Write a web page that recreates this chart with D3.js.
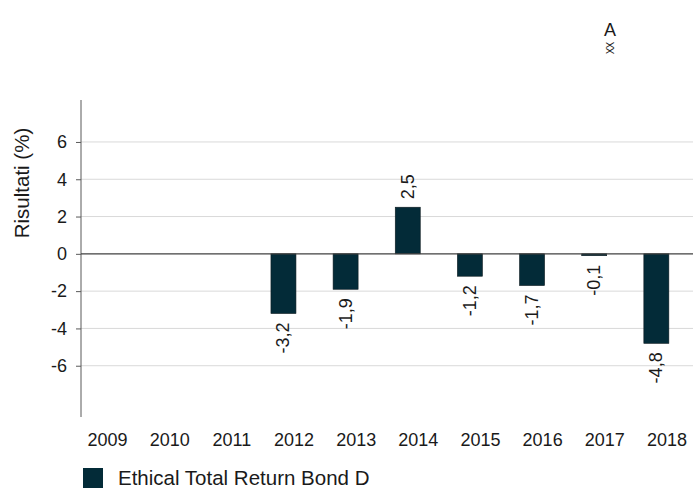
<!DOCTYPE html>
<html>
<head>
<meta charset="utf-8">
<script src="https://cdn.jsdelivr.net/npm/d3@7"></script>
<style>
  body { margin: 0; background: #fff; }
  svg { display: block; font-family: "Liberation Sans", Arial, sans-serif; }
</style>
</head>
<body>
<div id="chart"></div>
<script>
const years = ['2009', '2010', '2011', '2012', '2013', '2014', '2015', '2016', '2017', '2018'];
const values = [null, null, null, -3.2, -1.9, 2.5, -1.2, -1.7, -0.1, -4.8];
const yTicks = [-6, -4, -2, 0, 2, 4, 6];
const seriesName = 'Ethical Total Return Bond D';

const W = 693, H = 488;
const barColor = '#032b38';

const svg = d3.select('#chart').append('svg')
    .attr('width', W)
    .attr('height', H);

const x = d3.scaleBand()
    .domain(years)
    .range([76.5, 698]);

const y = d3.scaleLinear()
    .domain([-8.75, 8.25])
    .range([417, 100]);

const axisX = 81;
// formato italiano, con trattino normale
const fmt = v => v.toFixed(1).replace('.', ',');

// griglia
svg.append('g')
    .selectAll('line')
    .data(yTicks.filter(t => t !== 0))
    .enter().append('line')
    .attr('x1', axisX).attr('x2', W)
    .attr('y1', d => y(d)).attr('y2', d => y(d))
    .style('stroke', '#d9d9d9')
    .style('stroke-width', '1px');

// asse y
const yAxis = svg.append('g')
    .attr('transform', `translate(${axisX},0)`)
    .call(d3.axisLeft(y).tickValues(yTicks).tickSize(5).tickPadding(9).tickFormat(d => String(d)));
yAxis.select('.domain').remove();
yAxis.selectAll('.tick line').style('stroke', '#595959');
yAxis.selectAll('.tick text')
    .style('font-size', '18px')
    .style('fill', '#1a1a1a')
    .style('font-family', '"Liberation Sans", Arial, sans-serif');

svg.append('line')
    .attr('x1', axisX).attr('x2', axisX)
    .attr('y1', 100).attr('y2', 417)
    .style('stroke', '#595959')
    .style('stroke-width', '1px');

// barre
const data = years.map((yr, i) => ({ year: yr, value: values[i] })).filter(d => d.value !== null);

svg.append('g')
    .selectAll('rect')
    .data(data)
    .enter().append('rect')
    .attr('x', d => x(d.year) + 8)
    .attr('width', 25)
    .attr('y', d => y(Math.max(0, d.value)))
    .attr('height', d => Math.abs(y(d.value) - y(0)))
    .style('fill', barColor)
    .style('stroke', '#0d1a1f')
    .style('stroke-width', '0.6px');

// linea dello zero
svg.append('line')
    .attr('x1', axisX).attr('x2', W)
    .attr('y1', y(0)).attr('y2', y(0))
    .style('stroke', '#404040')
    .style('stroke-width', '1.2px');

// etichette valori
svg.append('g')
    .selectAll('text')
    .data(data)
    .enter().append('text')
    .attr('transform', d => {
        const cx = x(d.year) + 8 + 12.5;
        const yy = d.value >= 0 ? y(d.value) - 8 : y(d.value) + 9;
        return `translate(${cx + 6},${yy}) rotate(-90)`;
    })
    .style('text-anchor', d => d.value >= 0 ? 'start' : 'end')
    .style('font-size', '18px')
    .style('fill', '#1a1a1a')
    .text(d => fmt(d.value));

// etichette anni
svg.append('g')
    .selectAll('text')
    .data(years)
    .enter().append('text')
    .attr('x', d => x(d) + x.bandwidth() / 2)
    .attr('y', 445.5)
    .style('text-anchor', 'middle')
    .style('font-size', '18px')
    .style('fill', '#1a1a1a')
    .text(d => d);

// titolo asse y
svg.append('text')
    .attr('transform', 'translate(29,183) rotate(-90)')
    .style('text-anchor', 'middle')
    .style('font-size', '20.5px')
    .style('fill', '#1a1a1a')
    .text('Risultati (%)');

// legenda
svg.append('rect')
    .attr('x', 83).attr('y', 468)
    .attr('width', 20).attr('height', 20)
    .style('fill', barColor);

svg.append('text')
    .attr('x', 118).attr('y', 485)
    .style('font-size', '20.5px')
    .style('fill', '#1a1a1a')
    .text(seriesName);

// marcatore in alto
svg.append('text')
    .attr('x', 610).attr('y', 36)
    .style('text-anchor', 'middle')
    .style('font-size', '18px')
    .style('fill', '#1a1a1a')
    .text('A');

svg.append('text')
    .attr('transform', 'translate(613.5,48.5) rotate(-90)')
    .style('text-anchor', 'middle')
    .style('font-size', '10px')
    .style('letter-spacing', '-1px')
    .style('fill', '#1a1a1a')
    .text('XX');
</script>
</body>
</html>
